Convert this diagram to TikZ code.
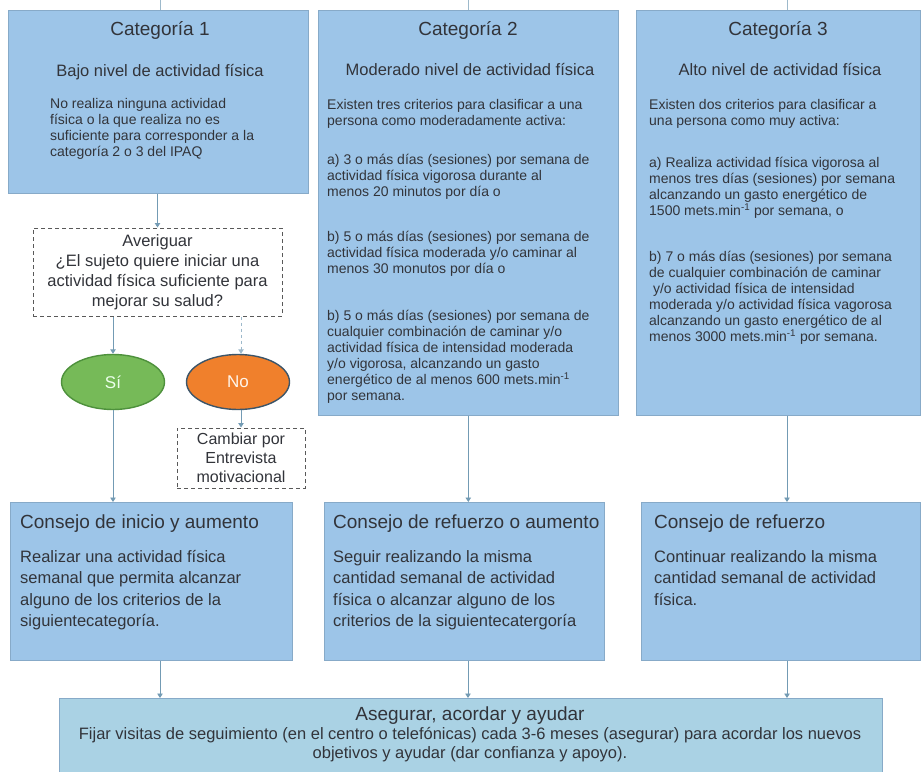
\documentclass[tikz,border=0pt]{standalone}
\usepackage{fontspec}
\setmainfont{Liberation Sans}
\usetikzlibrary{positioning,arrows.meta,shapes.geometric}
\definecolor{catblue}{RGB}{157,197,232}
\definecolor{endblue}{RGB}{170,210,228}
\definecolor{boxline}{RGB}{135,170,200}
\definecolor{arrowgray}{RGB}{115,155,180}
\definecolor{inkgray}{RGB}{50,52,58}
\definecolor{sigreen}{RGB}{118,186,88}
\definecolor{siedge}{RGB}{78,145,60}
\definecolor{noorange}{RGB}{240,128,44}
\definecolor{noedge}{RGB}{60,85,105}
\tikzset{%
  catbox/.style   = {rectangle, draw=boxline, fill=catblue, line width=0.6pt,%
                     inner sep=0pt, anchor=north west},%
  endbox/.style   = {catbox, fill=endblue},%
  askbox/.style   = {rectangle, draw=black!65, line width=1pt,%
                     dash pattern=on 4pt off 3pt, fill=white, align=center,%
                     inner sep=0pt, font=\fontsize{16.5}{20}\selectfont},%
  answer/.style   = {ellipse, line width=1.4pt, minimum width=103pt,%
                     minimum height=55pt, font=\fontsize{17}{20}\selectfont},%
  cattitle/.style = {inner sep=0pt, font=\fontsize{19}{22}\selectfont},%
  catsub/.style   = {inner sep=0pt, font=\fontsize{16.5}{20}\selectfont},%
  bodytext/.style = {inner sep=0pt, align=left, anchor=north west,%
                     font=\fontsize{14}{16}\selectfont},%
  bigtext/.style  = {bodytext, font=\fontsize{16.5}{21.5}\selectfont},%
  arr/.style      = {draw=arrowgray, line width=0.9pt,%
                     -{Triangle[width=5.5pt,length=4.5pt]}},%
  tick/.style     = {draw=arrowgray!70, line width=0.9pt}%
}
\begin{document}
\begin{tikzpicture}[x=1pt,y=-1pt,
	every node/.style = {text=inkgray}]
\useasboundingbox (0,0) rectangle (923,771);
% categorias
\node [catbox, minimum width=300pt, minimum height=183pt] (cat1) at (8,10) {};
\node [catbox, minimum width=300pt, minimum height=405pt] (cat2) at (318,10) {};
\node [catbox, minimum width=284pt, minimum height=405pt] (cat3) at (636,10) {};
\node [cattitle] (tit1) at (160,30) {Categoría 1};
\node [cattitle] (tit2) at (468,30) {Categoría 2};
\node [cattitle] (tit3) at (778,30) {Categoría 3};
\node [catsub] (sub1) at (160,72) {Bajo nivel de actividad física};
\node [catsub] (sub2) at (470,70) {Moderado nivel de actividad física};
\node [catsub] (sub3) at (780,70) {Alto nivel de actividad física};
\node [bodytext] (txt1) at (50,98) {No realiza ninguna actividad\\
	física o la que realiza no es\\
	suficiente para corresponder a la\\
	categoría 2 o 3 del IPAQ};
\node [bodytext] (txt2) at (327,99) {Existen tres criterios para clasificar a una\\
	persona como moderadamente activa:\\[23pt]
	a) 3 o más días (sesiones) por semana de\\
	actividad física vigorosa durante al\\
	menos 20 minutos por día o\\[29pt]
	b) 5 o más días (sesiones) por semana de\\
	actividad física moderada y/o caminar al\\
	menos 30 monutos por día o\\[31pt]
	b) 5 o más días (sesiones) por semana de\\
	cualquier combinación de caminar y/o\\
	actividad física de intensidad moderada\\
	y/o vigorosa, alcanzando un gasto\\
	energético de al menos 600 mets.min\textsuperscript{-1}\\
	por semana.};
\node [bodytext] (txt3) at (649,99) {Existen dos criterios para clasificar a\\
	una persona como muy activa:\\[26pt]
	a) Realiza actividad física vigorosa al\\
	menos tres días (sesiones) por semana\\
	alcanzando un gasto energético de\\
	1500 mets.min\textsuperscript{-1} por semana, o\\[30pt]
	b) 7 o más días (sesiones) por semana\\
	de cualquier combinación de caminar\\
	\ y/o actividad física de intensidad\\
	moderada y/o actividad física vagorosa\\
	alcanzando un gasto energético de al\\
	menos 3000 mets.min\textsuperscript{-1} por semana.};
% averiguar
\node [askbox, minimum width=249pt, minimum height=88pt] (aver) at (157.5,272)
	{Averiguar\\ ¿El sujeto quiere iniciar una\\ actividad física suficiente para\\ mejorar su salud?};
\node [answer, draw=siedge, fill=sigreen, text=green!8] (si) at (113,382) {Sí};
\node [answer, draw=noedge, fill=noorange, text=orange!8] (no) at (238,382) {No};
\node [askbox, minimum width=128pt, minimum height=60pt, font=\fontsize{16}{19}\selectfont]
	(camb) at (241,458) {Cambiar por\\ Entrevista\\ motivacional};
% consejos
\node [catbox, minimum width=282pt, minimum height=158pt] (con1) at (10,502) {};
\node [catbox, minimum width=280pt, minimum height=158pt] (con2) at (324,502) {};
\node [catbox, minimum width=279pt, minimum height=158pt] (con3) at (641,502) {};
\node [cattitle, anchor=west] (ctit1) at (20,524) {Consejo de inicio y aumento};
\node [cattitle, anchor=west] (ctit2) at (333,524) {Consejo de refuerzo o aumento};
\node [cattitle, anchor=west] (ctit3) at (654,524) {Consejo de refuerzo};
\node [bigtext] (ctxt1) at (20,550) {Realizar una actividad física\\
	semanal que permita alcanzar\\
	alguno de los criterios de la\\
	siguientecategoría.};
\node [bigtext] (ctxt2) at (333,550) {Seguir realizando la misma\\
	cantidad semanal de actividad\\
	física o alcanzar alguno de los\\
	criterios de la siguientecatergoría};
\node [bigtext] (ctxt3) at (654,550) {Continuar realizando la misma\\
	cantidad semanal de actividad\\
	física.};
% asegurar
\node [endbox, minimum width=823pt, minimum height=80pt] (fin) at (59,698) {};
\node [cattitle] (ftit) at (470,716) {Asegurar, acordar y ayudar};
\node [bigtext, anchor=north, align=center, font=\fontsize{16.5}{19}\selectfont] (ftxt) at (470,727)
	{Fijar visitas de seguimiento (en el centro o telefónicas) cada 3-6 meses (asegurar) para acordar los nuevos\\
	objetivos y ayudar (dar confianza y apoyo).};
% flechas
\coordinate (in1) at (160,0);
\coordinate (in2) at (468,0);
\coordinate (in3) at (787,0);
\draw [tick] (in1) -- (in1 |- cat1.north);
\draw [tick] (in2) -- (in2 |- cat2.north);
\draw [tick] (in3) -- (in3 |- cat3.north);
\draw [arr] (cat1.south -| aver.north) -- (aver.north);
\draw [arr] (aver.south -| si.north) -- (si.north);
\draw [arr, dashed, draw=arrowgray!70] (aver.south -| camb.north) -- (camb.north |- no.north);
\draw [arr] (no.south -| camb.north) -- (camb.north);
\draw [arr] (si.south) -- (si.south |- con1.north);
\draw [arr] (cat2.south) -- (cat2.south |- con2.north);
\draw [arr] (in3 |- cat3.south) -- (in3 |- con3.north);
\draw [arr] (in1 |- con1.south) -- (in1 |- fin.north);
\draw [arr] (in2 |- con2.south) -- (in2 |- fin.north);
\draw [arr] (in3 |- con3.south) -- (in3 |- fin.north);
\end{tikzpicture}
\end{document}
